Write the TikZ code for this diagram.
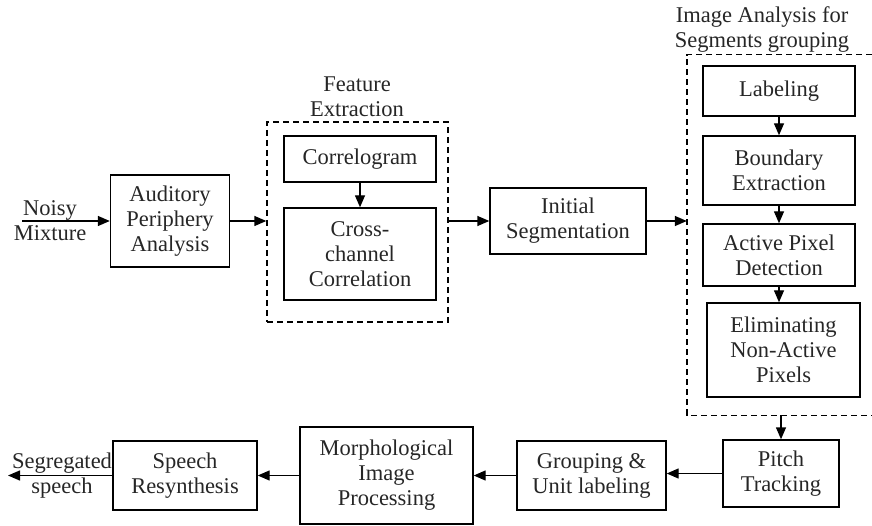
\documentclass[tikz,border=0pt]{standalone}
\usepackage{fontspec}
\setmainfont{Liberation Serif}
\usetikzlibrary{arrows.meta}

\begin{document}
\begin{tikzpicture}[x=1pt, y=-1pt,
        every node/.style={text=black!85, font=\fontsize{22.5}{25}\selectfont},
        box/.style={draw, line width=1.4pt, align=center, inner sep=1pt},
        grp/.style={draw, line width=1.4pt, dash pattern=on 6pt off 4pt},
        lbl/.style={align=center},
        arr/.style={-{Triangle[length=12pt, width=10pt]}, line width=1.4pt}]

        \useasboundingbox (0,0) rectangle (872,526);

        % top row
        \node[box, minimum width=119pt, minimum height=92pt] (aud) at (170,221) {Auditory\\Periphery\\Analysis};

        \node[grp, minimum width=181pt, minimum height=200pt] (feat) at (357.5,222) {};
        \node[lbl] (featlbl) at (357,97) {Feature\\Extraction};
        \node[box, minimum width=152pt, minimum height=46pt] (corr) at (360,159) {Correlogram};
        \node[box, minimum width=152pt, minimum height=92pt] (cross) at (360,254) {Cross-\\channel\\Correlation};

        \node[box, minimum width=156pt, minimum height=66pt] (init) at (568,221) {Initial\\Segmentation};

        % image analysis group, open on the right
        \node[minimum width=185pt, minimum height=360pt, inner sep=0pt] (img) at (779.5,235) {};
        \draw[grp] (img.north east) -- (img.north west) -- (img.south west) -- (img.south east);
        \node[lbl] (imglbl) at (762,30) {Image Analysis for\\Segments grouping};
        \node[box, minimum width=152pt, minimum height=50pt] (lab) at (779,91) {Labeling};
        \node[box, minimum width=152pt, minimum height=69pt] (bound) at (779,170.5) {Boundary\\Extraction};
        \node[box, minimum width=152pt, minimum height=62pt] (active) at (779,255) {Active Pixel\\Detection};
        \node[box, minimum width=153pt, minimum height=94pt] (elim) at (783.5,350) {Eliminating\\Non-Active\\Pixels};

        % bottom row
        \node[box, minimum width=116pt, minimum height=67pt] (pitch) at (781,473.5) {Pitch\\Tracking};
        \node[box, minimum width=149pt, minimum height=69pt] (group) at (591.5,475.5) {Grouping \&\\Unit labeling};
        \node[box, minimum width=173pt, minimum height=97pt] (morph) at (386.5,475.5) {Morphological\\Image\\Processing};
        \node[box, minimum width=144pt, minimum height=69pt] (resyn) at (185,475.5) {Speech\\Resynthesis};

        % input and output
        \coordinate (in) at (22,221);
        \node[lbl] (inlbl) at (50,221) {Noisy\\Mixture};
        \coordinate (out) at (8,475.5);
        \node[lbl] (outlbl) at (62,475.5) {Segregated\\speech};

        % connectors
        \draw[arr] (in) -- (aud);
        \draw[arr] (aud) -- (aud -| feat.west);
        \draw[arr] (corr) -- (cross);
        \draw[arr] (init -| feat.east) -- (init);
        \draw[arr] (init) -- (init -| img.west);
        \draw[arr] (lab) -- (bound);
        \draw[arr] (bound) -- (active);
        \draw[arr] (active.south) -- (active.south |- elim.north);
        \draw[arr] (img.south -| pitch) -- (pitch);
        \draw[arr] (pitch.west) -- (pitch.west -| group.east);
        \draw[arr] (group) -- (morph);
        \draw[arr] (morph) -- (resyn);
        \draw[arr] (resyn) -- (out);
    \end{tikzpicture}
\end{document}
